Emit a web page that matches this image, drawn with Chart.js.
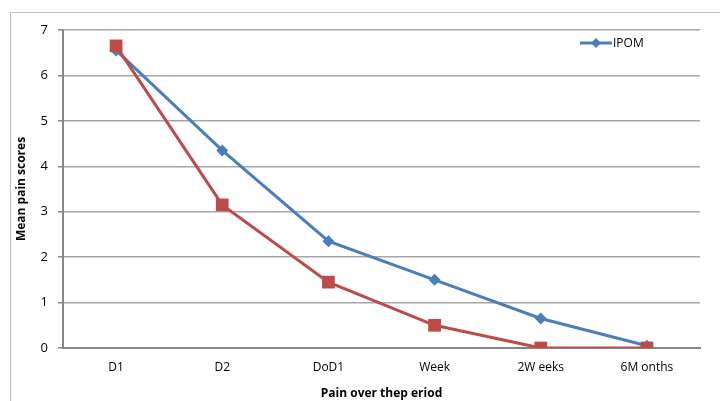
<!DOCTYPE html>
<html>
<head>
<meta charset="utf-8">
<script src="https://cdn.jsdelivr.net/npm/chart.js@4/dist/chart.umd.min.js"></script>
<style>
    html, body { margin: 0; padding: 0; background: #ffffff; }
    #wrap { width: 720px; height: 401px; position: relative; }
</style>
</head>
<body>
<div id="wrap"><canvas id="painChart"></canvas></div>
<script>
const periods = ['D1', 'D2', 'DoD1', 'Week', '2W eeks', '6M onths'];
const ipomScores = [6.55, 4.35, 2.35, 1.5, 0.65, 0.05];
const otherScores = [6.65, 3.15, 1.45, 0.5, 0, 0];
const yTicks = [0, 1, 2, 3, 4, 5, 6, 7];

const FONT = "'Open Sans', 'Noto Sans', sans-serif";
const BLUE = '#4a7ebb';
const RED = '#be4b48';

// frame around the whole chart (open on the right and bottom)
const frame = {
    id: 'frame',
    beforeDraw(chart) {
        const c = chart.ctx;
        c.save();
        c.strokeStyle = '#bfbfbf';
        c.lineWidth = 1;
        c.strokeRect(10.5, 12.5, 760, 500);
        c.restore();
    },
};

// legend with only the IPOM entry: line + diamond, then the name
const ipomLegend = {
    id: 'ipomLegend',
    afterDraw(chart) {
        const c = chart.ctx;
        const y = 43;
        c.save();
        c.strokeStyle = BLUE;
        c.lineWidth = 3;
        c.beginPath();
        c.moveTo(580, y);
        c.lineTo(612, y);
        c.stroke();
        c.fillStyle = BLUE;
        c.beginPath();
        c.moveTo(596, y - 5);
        c.lineTo(601, y);
        c.lineTo(596, y + 5);
        c.lineTo(591, y);
        c.closePath();
        c.fill();
        c.fillStyle = '#000000';
        c.font = '12px ' + FONT;
        c.textBaseline = 'middle';
        c.fillText('IPOM', 613, y + 1);
        c.restore();
    },
};

new Chart(document.getElementById('painChart'), {
    type: 'line',
    data: {
        labels: periods,
        datasets: [{
            label: 'IPOM',
            data: ipomScores,
            borderColor: BLUE,
            backgroundColor: BLUE,
            borderWidth: 3,
            pointStyle: 'rectRot',
            pointRadius: 6,
            pointHoverRadius: 6,
            pointBorderWidth: 0,
            tension: 0,
            order: 2,
        }, {
            label: '',
            data: otherScores,
            borderColor: RED,
            backgroundColor: RED,
            borderWidth: 3,
            pointStyle: 'rect',
            pointRadius: 9,
            pointHoverRadius: 9,
            pointBorderWidth: 0,
            tension: 0,
            order: 1,
        }],
    },
    options: {
        responsive: true,
        maintainAspectRatio: false,
        animation: false,
        layout: {
            padding: { left: 14, top: 30, right: 20, bottom: 0 },
        },
        plugins: {
            legend: { display: false },
            tooltip: { enabled: false },
        },
        scales: {
            x: {
                offset: true,
                grid: { display: false, drawTicks: false, offset: true },
                border: { color: '#868686', width: 2 },
                ticks: {
                    color: '#000000',
                    font: { family: FONT, size: 12 },
                    padding: 12,
                    maxRotation: 0,
                },
                title: {
                    display: true,
                    text: 'Pain over thep eriod',
                    color: '#000000',
                    font: { family: FONT, size: 12, weight: 'bold' },
                    padding: { top: 6, bottom: 0 },
                },
                afterFit(scale) {
                    scale.height = 53;
                },
            },
            y: {
                min: 0,
                max: 7,
                afterBuildTicks(scale) {
                    scale.ticks = yTicks.map((v) => ({ value: v }));
                },
                grid: {
                    color: '#a6a6a6',
                    lineWidth: 1.5,
                    tickLength: 5,
                    tickColor: '#868686',
                },
                border: { color: '#868686', width: 2 },
                ticks: {
                    color: '#000000',
                    font: { family: FONT, size: 13 },
                    padding: 10,
                },
                title: {
                    display: true,
                    text: 'Mean pain scores',
                    color: '#000000',
                    font: { family: FONT, size: 12, weight: 'bold' },
                    padding: { top: 0, bottom: 2 },
                },
                afterFit(scale) {
                    scale.width = 49;
                },
            },
        },
    },
    plugins: [frame, ipomLegend],
});
</script>
</body>
</html>
